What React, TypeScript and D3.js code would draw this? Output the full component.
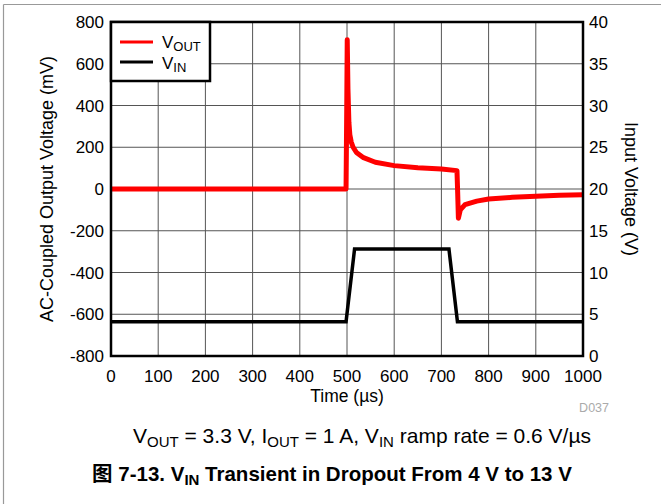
import React from "react";
import * as d3 from "d3";

// ---- data ----
const voutTime = [0, 100, 200, 300, 400, 498, 499.5, 500.5, 502, 504, 506, 509, 513, 520, 535, 560, 600, 650, 700, 733, 734.5, 736, 740, 750, 775, 800, 850, 900, 950, 1000];
const voutMv = [0, 0, 0, 0, 0, 0, 400, 715, 480, 320, 260, 225, 200, 175, 150, 128, 112, 102, 96, 88, -20, -140, -100, -75, -58, -48, -40, -35, -30, -28];

const vinTime = [0, 498, 516, 716, 734, 1000];
const vinV = [4.1, 4.1, 12.8, 12.8, 4.1, 4.1];

const xTicks = [0, 100, 200, 300, 400, 500, 600, 700, 800, 900, 1000];
const yLeftTicks = [800, 600, 400, 200, 0, -200, -400, -600, -800];
const yRightTicks = [40, 35, 30, 25, 20, 15, 10, 5, 0];

const FONT = "'Liberation Sans', Arial, 'Noto Sans CJK SC', sans-serif";

export default function App() {
  const L = 111, T = 22, R = 583, B = 356;
  const x = d3.scaleLinear().domain([0, 1000]).range([L, R]);
  const yL = d3.scaleLinear().domain([-800, 800]).range([B, T]);
  const yR = d3.scaleLinear().domain([0, 40]).range([B, T]);

  const voutPath = d3.line<number>().x((_, i) => x(voutTime[i])).y((d) => yL(d))(voutMv) || "";
  const vinPath = d3.line<number>().x((_, i) => x(vinTime[i])).y((d) => yR(d))(vinV) || "";

  const grid = "#555";
  return (
    <svg width={661} height={504} style={{ position: "absolute", left: 0, top: 0, background: "#fff" }} fontFamily={FONT}>
      {/* outer frame */}
      <line x1={3.5} y1={4.5} x2={661} y2={4.5} stroke="#999" strokeWidth={1.2} />
      <line x1={3.5} y1={4.5} x2={3.5} y2={504} stroke="#999" strokeWidth={1.2} />

      {/* grid */}
      {xTicks.map((t) => (
        <line key={"gx" + t} x1={x(t)} x2={x(t)} y1={T} y2={B} stroke={grid} strokeWidth={1} />
      ))}
      {yLeftTicks.map((t) => (
        <line key={"gy" + t} x1={L} x2={R} y1={yL(t)} y2={yL(t)} stroke={grid} strokeWidth={1} />
      ))}

      {/* data */}
      <path d={vinPath} fill="none" stroke="#000" strokeWidth={3.5} strokeLinejoin="miter" />
      <path d={voutPath} fill="none" stroke="#ff0000" strokeWidth={5} strokeLinejoin="round" />

      {/* plot border */}
      <rect x={L} y={T} width={R - L} height={B - T} fill="none" stroke="#000" strokeWidth={2.5} />

      {/* legend */}
      <rect x={L} y={T} width={99} height={59} fill="#fff" stroke="#000" strokeWidth={2.5} />
      <line x1={120} x2={153} y1={42} y2={42} stroke="#ff0000" strokeWidth={3} />
      <line x1={120} x2={153} y1={62} y2={62} stroke="#000" strokeWidth={3} />
      <text x={162} y={48} fontSize={17}>
        V<tspan fontSize={13} dy={3}>OUT</tspan>
      </text>
      <text x={162} y={69} fontSize={17}>
        V<tspan fontSize={13} dy={3}>IN</tspan>
      </text>

      {/* tick labels */}
      {xTicks.map((t) => (
        <text key={"tx" + t} x={x(t)} y={382} fontSize={17} textAnchor="middle">{t}</text>
      ))}
      {yLeftTicks.map((t) => (
        <text key={"tl" + t} x={104} y={yL(t) + 6} fontSize={17} textAnchor="end">{t}</text>
      ))}
      {yRightTicks.map((t) => (
        <text key={"tr" + t} x={589} y={yR(t) + 6} fontSize={17} textAnchor="start">{t}</text>
      ))}

      <text x={347} y={402} fontSize={17.5} textAnchor="middle">Time (µs)</text>
      <text x={609} y={412} fontSize={12.5} textAnchor="end" fill="#aaa">D037</text>

      <text transform={`translate(53,${(T + B) / 2}) rotate(-90)`} fontSize={18} textAnchor="middle">
        AC-Coupled Output Voltage (mV)
      </text>
      <text transform={`translate(625,${(T + B) / 2}) rotate(90)`} fontSize={18} textAnchor="middle">
        Input Voltage (V)
      </text>

      {/* subtitle */}
      <text x={362} y={443} fontSize={21} textAnchor="middle">
        V<tspan fontSize={15} dy={4}>OUT</tspan>
        <tspan dy={-4}> = 3.3 V, I</tspan>
        <tspan fontSize={15} dy={4}>OUT</tspan>
        <tspan dy={-4}> = 1 A, V</tspan>
        <tspan fontSize={15} dy={4}>IN</tspan>
        <tspan dy={-4}> ramp rate = 0.6 V/µs</tspan>
      </text>

      {/* title */}
      <text x={332} y={481} fontSize={20.5} fontWeight="bold" textAnchor="middle">
        图 7-13. V<tspan fontSize={15} dy={4}>IN</tspan>
        <tspan dy={-4}> Transient in Dropout From 4 V to 13 V</tspan>
      </text>
    </svg>
  );
}
